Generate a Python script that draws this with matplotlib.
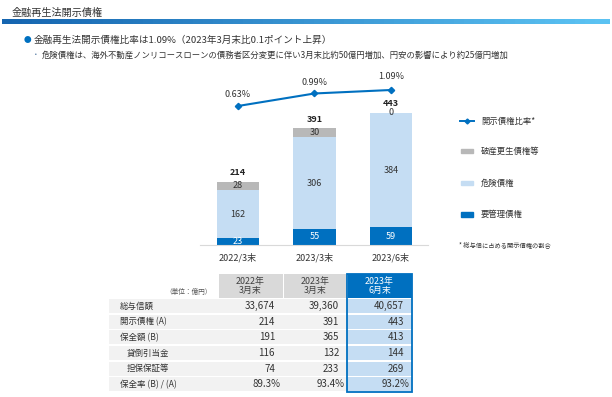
import numpy as np
import matplotlib
matplotlib.use("Agg")
import matplotlib.pyplot as plt
from matplotlib.patches import Rectangle
from matplotlib.colors import LinearSegmentedColormap
from matplotlib.collections import LineCollection

plt.rcParams['font.family'] = ['Noto Sans CJK JP', 'DejaVu Sans']

# ---- data ----
periods = ['2022/3末', '2023/3末', '2023/6末']
kanri = [23, 55, 59]          # 要管理債権
kiken = [162, 306, 384]       # 危険債権
hasan = [28, 30, 0]           # 破産更生債権等
totals = [214, 391, 443]
ratio = [0.63, 0.99, 1.09]    # 開示債権比率 (%)

tbl_headers = ['2022年\n3月末', '2023年\n3月末', '2023年\n6月末']
tbl_rows = ['総与信額', '開示債権 (A)', '保全額 (B)', '貸倒引当金', '担保保証等', '保全率 (B) / (A)']
tbl_indent = [False, False, False, True, True, False]
tbl_col1 = ['33,674', '214', '191', '116', '74', '89.3%']
tbl_col2 = ['39,360', '391', '365', '132', '233', '93.4%']
tbl_col3 = ['40,657', '443', '413', '144', '269', '93.2%']

DARK = '#0070C0'
LIGHT = '#C5DDF3'
GRAY = '#B8B8B8'
TXT = '#333333'

W, H = 612, 397
fig = plt.figure(figsize=(W / 100, H / 100), dpi=100)


def fx(px):
    return px / W


def fy(py):
    return 1 - py / H


# ---- bar chart ----
ax_l, ax_r, ax_t, ax_b = 200, 428, 70, 245
ax = fig.add_axes([fx(ax_l), fy(ax_b), fx(ax_r - ax_l), (ax_b - ax_t) / H])
x = np.arange(len(periods))
bw = 0.56
ax.bar(x, kanri, bw, color=DARK, zorder=2)
ax.bar(x, kiken, bw, bottom=kanri, color=LIGHT, zorder=2)
bot2 = [a + b for a, b in zip(kanri, kiken)]
ax.bar(x, hasan, bw, bottom=bot2, color=GRAY, zorder=2)

ax.set_xlim(-0.497, 2.484)
ax.set_ylim(0, 175 / 0.298)
for i in range(len(x)):
    ax.text(x[i], kanri[i] / 2, str(kanri[i]), ha='center', va='center',
            fontsize=6.5, color='white', zorder=3, clip_on=True)
    ax.text(x[i], kanri[i] + kiken[i] / 2, str(kiken[i]), ha='center', va='center',
            fontsize=6.5, color=TXT, zorder=3)
    ax.text(x[i], bot2[i] + hasan[i] / 2, str(hasan[i]), ha='center', va='center',
            fontsize=6.5, color=TXT, zorder=3)
    ax.annotate(str(totals[i]), (x[i], totals[i]), xytext=(0, 6.5),
                textcoords='offset points', ha='center', va='center',
                fontsize=6.5, fontweight='bold', color='#222222')

for s in ['top', 'right', 'left']:
    ax.spines[s].set_visible(False)
ax.spines['bottom'].set_color('#D9D9D9')
ax.set_yticks([])
ax.set_xticks(x)
ax.set_xticklabels(periods, fontsize=6.5, color=TXT)
ax.tick_params(axis='x', length=0, pad=6)
ax.patch.set_alpha(0)

ax2 = ax.twinx()
lo = 0.63 - 139 / 34.8
ax2.set_ylim(lo, lo + 175 / 34.8)
ax2.plot(x, ratio, color=DARK, lw=1.5, marker='D', ms=3.2, zorder=4)
for i in range(len(x)):
    off = 9.5 if i == 2 else 8
    ax2.annotate(f'{ratio[i]:.2f}%', (x[i], ratio[i]), xytext=(0, off),
                 textcoords='offset points', ha='center', va='center',
                 fontsize=6.5, color=TXT)
ax2.set_yticks([])
for s in ax2.spines.values():
    s.set_visible(False)

# ---- overlay in pixel coords ----
ov = fig.add_axes([0, 0, 1, 1], zorder=-1)
ov.set_xlim(0, W)
ov.set_ylim(H, 0)
ov.axis('off')

ov.text(12, 12.5, '金融再生法開示債権', fontsize=7.3, color=TXT, va='center')
# gradient rule under the title
cmap = LinearSegmentedColormap.from_list('u', ['#1565B0', '#5BC2F2'])
xs = np.linspace(4, 607, 61)
segs = [[(xs[k], 20.8), (xs[k + 1], 20.8)] for k in range(len(xs) - 1)]
ov.add_collection(LineCollection(segs, colors=cmap(np.linspace(0, 1, len(segs))),
                                 linewidths=2.2, capstyle='projecting',
                                 antialiaseds=False))

ov.text(27, 40, '●', fontsize=5.5, color=DARK, va='center', ha='center')
ov.text(34, 40, '金融再生法開示債権比率は1.09%（2023年3月末比0.1ポイント上昇）',
        fontsize=6.9, color=TXT, va='center')
ov.text(36, 55, '・', fontsize=5.5, color='#5B7FA6', va='center', ha='center')
ov.text(42, 55, '危険債権は、海外不動産ノンリコースローンの債務者区分変更に伴い3月末比約50億円増加、円安の影響により約25億円増加',
        fontsize=6.0, color=TXT, va='center')

# legend
ov.plot([460, 474], [121, 121], color=DARK, lw=1.4)
ov.plot([467], [121], marker='D', ms=2.5, color=DARK)
ov.text(481, 121, '開示債権比率*', fontsize=6, color=TXT, va='center')
ov.add_patch(Rectangle((461, 148.5), 12, 4, color=GRAY))
ov.text(481, 151, '破産更生債権等', fontsize=6, color=TXT, va='center')
ov.add_patch(Rectangle((461, 181), 12, 4, color=LIGHT))
ov.text(481, 183, '危険債権', fontsize=6, color=TXT, va='center')
ov.add_patch(Rectangle((461, 212), 12, 4.5, color=DARK))
ov.text(481, 214, '要管理債権', fontsize=6, color=TXT, va='center')
ov.text(459, 245, '* 総与信に占める開示債権の割合', fontsize=4.5, color=TXT, va='center')

# table
lab_l = 109
cols = [218, 283, 347, 412]
hdr_t, hdr_b = 274, 298
rh = 15.7
ov.text(212, 292, '（単位：億円）', fontsize=4.8, color='#555555', ha='right', va='center')
for j in range(3):
    l, r = cols[j] + 0.5, cols[j + 1] - 0.5
    fc = DARK if j == 2 else '#D9D9D9'
    ov.add_patch(Rectangle((l, hdr_t), r - l, hdr_b - hdr_t, color=fc, lw=0))
    ov.text((l + r) / 2, (hdr_t + hdr_b) / 2, tbl_headers[j], ha='center', va='center',
            fontsize=6.4, color='white' if j == 2 else '#404040', linespacing=1.1)

col_vals = [tbl_col1, tbl_col2, tbl_col3]
for i, name in enumerate(tbl_rows):
    t = hdr_b + i * rh
    ov.add_patch(Rectangle((lab_l, t + 0.8), cols[2] - lab_l, rh - 1.6, color='#F2F2F2', lw=0))
    ov.add_patch(Rectangle((cols[2], t + 0.8), cols[3] - cols[2], rh - 1.6, color=LIGHT, lw=0))
    ov.text(lab_l + (18 if tbl_indent[i] else 11), t + rh / 2, name, fontsize=6.1,
            color=TXT, va='center')
    pad = 2.5 if name.startswith('保全率') else 8
    for j in range(3):
        ov.text(cols[j + 1] - pad, t + rh / 2, col_vals[j][i], fontsize=7,
                color=TXT, ha='right', va='center')

ov.add_patch(Rectangle((cols[2], hdr_t), cols[3] - cols[2], hdr_b + 6 * rh - hdr_t,
                       fill=False, ec=DARK, lw=1.3))

fig.savefig('out.png', dpi=100)
